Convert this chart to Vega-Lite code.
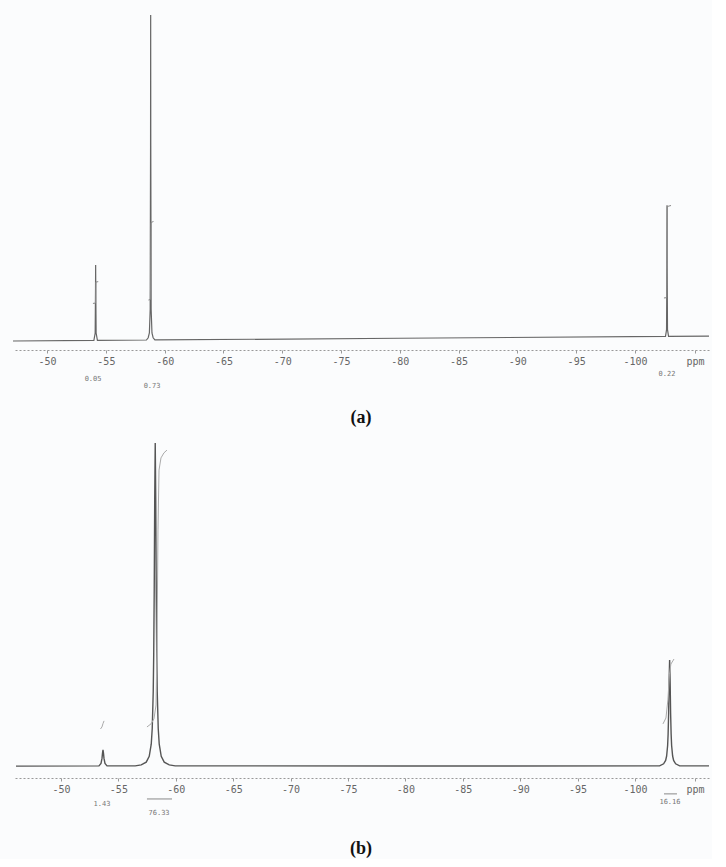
{
  "$schema": "https://vega.github.io/schema/vega-lite/v6.json",
  "background": "#fbfcfd",
  "padding": {"left": 10, "top": 10, "right": 0, "bottom": 0},
  "bounds": "flush",
  "spacing": 90,
  "config": {"view": {"stroke": null}},
  "datasets": {
    "spec_a": [
      {"ppm": -47.1, "i": 2.65},
      {"ppm": -53.98, "i": 2.82},
      {"ppm": -54.09, "i": 5},
      {"ppm": -54.12, "i": 18},
      {"ppm": -54.13, "i": 25},
      {"ppm": -54.14, "i": 18},
      {"ppm": -54.17, "i": 5},
      {"ppm": -54.28, "i": 2.84},
      {"ppm": -58.45, "i": 2.94},
      {"ppm": -58.6, "i": 3.6},
      {"ppm": -58.7, "i": 5.0},
      {"ppm": -58.77, "i": 12},
      {"ppm": -58.8, "i": 60},
      {"ppm": -58.81, "i": 98.5},
      {"ppm": -58.82, "i": 60},
      {"ppm": -58.85, "i": 12},
      {"ppm": -58.92, "i": 5.0},
      {"ppm": -59.02, "i": 3.6},
      {"ppm": -59.17, "i": 2.95},
      {"ppm": -80.0, "i": 3.45},
      {"ppm": -102.6, "i": 4.01},
      {"ppm": -102.69, "i": 6},
      {"ppm": -102.72, "i": 25},
      {"ppm": -102.73, "i": 42.6},
      {"ppm": -102.74, "i": 25},
      {"ppm": -102.77, "i": 6},
      {"ppm": -102.86, "i": 4.02},
      {"ppm": -106.3, "i": 4.1}
    ],
    "int_a": [
      {"g": 1, "ppm": -53.9, "i": 13.7},
      {"g": 1, "ppm": -54.12, "i": 13.8},
      {"g": 1, "ppm": -54.15, "i": 20.0},
      {"g": 1, "ppm": -54.35, "i": 20.1},
      {"g": 2, "ppm": -58.62, "i": 14.7},
      {"g": 2, "ppm": -58.79, "i": 14.85},
      {"g": 2, "ppm": -58.84, "i": 37.5},
      {"g": 2, "ppm": -59.05, "i": 37.8},
      {"g": 3, "ppm": -102.47, "i": 15.3},
      {"g": 3, "ppm": -102.7, "i": 15.4},
      {"g": 3, "ppm": -102.75, "i": 42.2},
      {"g": 3, "ppm": -103.07, "i": 42.5}
    ],
    "lab_a": [
      {"ppm": -53.91, "i": -8.5, "t": "0.05"},
      {"ppm": -58.93, "i": -10.6, "t": "0.73"},
      {"ppm": -102.73, "i": -7.1, "t": "0.22"}
    ],
    "spec_b": [
      {"ppm": -46.08, "i": 3.5},
      {"ppm": -53.31, "i": 3.6},
      {"ppm": -53.486, "i": 4.3},
      {"ppm": -53.573, "i": 5.8},
      {"ppm": -53.616, "i": 7.3},
      {"ppm": -53.66, "i": 8.3},
      {"ppm": -53.704, "i": 7.3},
      {"ppm": -53.747, "i": 5.8},
      {"ppm": -53.834, "i": 4.3},
      {"ppm": -54.01, "i": 3.6},
      {"ppm": -56.468, "i": 3.6},
      {"ppm": -56.99, "i": 3.9},
      {"ppm": -57.426, "i": 4.7},
      {"ppm": -57.687, "i": 6.4},
      {"ppm": -57.862, "i": 10.0},
      {"ppm": -57.949, "i": 14.65},
      {"ppm": -58.036, "i": 25.5},
      {"ppm": -58.079, "i": 36.8},
      {"ppm": -58.123, "i": 55.8},
      {"ppm": -58.166, "i": 82.7},
      {"ppm": -58.21, "i": 99.1},
      {"ppm": -58.254, "i": 82.7},
      {"ppm": -58.297, "i": 55.8},
      {"ppm": -58.341, "i": 36.8},
      {"ppm": -58.384, "i": 25.5},
      {"ppm": -58.471, "i": 14.65},
      {"ppm": -58.558, "i": 10.0},
      {"ppm": -58.733, "i": 6.4},
      {"ppm": -58.994, "i": 4.7},
      {"ppm": -59.43, "i": 3.9},
      {"ppm": -59.952, "i": 3.6},
      {"ppm": -80.0, "i": 3.55},
      {"ppm": -102.149, "i": 3.6},
      {"ppm": -102.497, "i": 4.2},
      {"ppm": -102.672, "i": 5.2},
      {"ppm": -102.759, "i": 6.5},
      {"ppm": -102.846, "i": 9.6},
      {"ppm": -102.889, "i": 13.0},
      {"ppm": -102.933, "i": 19.1},
      {"ppm": -102.976, "i": 28.6},
      {"ppm": -103.02, "i": 34.9},
      {"ppm": -103.064, "i": 28.6},
      {"ppm": -103.107, "i": 19.1},
      {"ppm": -103.151, "i": 13.0},
      {"ppm": -103.194, "i": 9.6},
      {"ppm": -103.281, "i": 6.5},
      {"ppm": -103.368, "i": 5.2},
      {"ppm": -103.543, "i": 4.2},
      {"ppm": -103.891, "i": 3.6},
      {"ppm": -106.45, "i": 3.6}
    ],
    "int_b": [
      {"g": 1, "ppm": -53.44, "i": 14.5},
      {"g": 1, "ppm": -53.57, "i": 15.1},
      {"g": 1, "ppm": -53.66, "i": 16.1},
      {"g": 1, "ppm": -53.75, "i": 16.9},
      {"g": 2, "ppm": -57.49, "i": 15.1},
      {"g": 2, "ppm": -57.84, "i": 16.0},
      {"g": 2, "ppm": -58.1, "i": 17.5},
      {"g": 2, "ppm": -58.28, "i": 21.6},
      {"g": 2, "ppm": -58.36, "i": 37.9},
      {"g": 2, "ppm": -58.45, "i": 73.4},
      {"g": 2, "ppm": -58.54, "i": 91.1},
      {"g": 2, "ppm": -58.71, "i": 94.7},
      {"g": 2, "ppm": -58.97, "i": 96.2},
      {"g": 2, "ppm": -59.23, "i": 97.0},
      {"g": 3, "ppm": -102.44, "i": 16.0},
      {"g": 3, "ppm": -102.7, "i": 17.75},
      {"g": 3, "ppm": -102.87, "i": 23.1},
      {"g": 3, "ppm": -103.0, "i": 30.5},
      {"g": 3, "ppm": -103.13, "i": 33.7},
      {"g": 3, "ppm": -103.4, "i": 35.2}
    ],
    "lab_b": [
      {"ppm": -53.57, "i": -7.7, "t": "1.43"},
      {"ppm": -58.54, "i": -10.4, "t": "76.33"},
      {"ppm": -103.05, "i": -7.1, "t": "16.16"}
    ],
    "bar_b": [
      {"ppm": -57.49, "ppm2": -59.67, "i": -6.2},
      {"ppm": -102.53, "ppm2": -103.66, "i": -4.7}
    ]
  },
  "vconcat": [
    {
      "width": 696,
      "height": 340,
      "title": {"text": "(a)", "orient": "bottom", "offset": 20, "font": "Liberation Serif", "fontSize": 18, "fontWeight": "bold", "color": "#111"},
      "encoding": {
        "x": {
          "field": "ppm", "type": "quantitative",
          "scale": {"domain": [-106.3, -47.1], "reverse": true, "nice": false, "zero": false},
          "axis": {
            "values": [-50, -55, -60, -65, -70, -75, -80, -85, -90, -95, -100, -105.11],
            "labelExpr": "datum.value < -104 ? 'ppm' : '-' + abs(datum.value)",
            "title": null, "grid": false,
            "domainColor": "#999", "domainDash": [2, 2], "domainWidth": 1,
            "tickColor": "#999", "tickSize": 3,
            "labelFont": "DejaVu Sans Mono", "labelFontSize": 10, "labelColor": "#666",
            "labelPadding": 3, "labelFlush": false, "labelOverlap": false
          }
        },
        "y": {"field": "i", "type": "quantitative", "scale": {"domain": [0, 100], "nice": false, "zero": false}, "axis": null}
      },
      "layer": [
        {"data": {"name": "spec_a"}, "mark": {"type": "line", "color": "#666", "strokeWidth": 1.2}},
        {"data": {"name": "int_a"}, "mark": {"type": "line", "color": "#888", "strokeWidth": 1}, "encoding": {"detail": {"field": "g"}}},
        {"data": {"name": "lab_a"}, "mark": {"type": "text", "font": "DejaVu Sans Mono", "fontSize": 7, "color": "#777"}, "encoding": {"text": {"field": "t"}}}
      ]
    },
    {
      "width": 696,
      "height": 338,
      "title": {"text": "(b)", "orient": "bottom", "offset": 24, "font": "Liberation Serif", "fontSize": 18, "fontWeight": "bold", "color": "#111"},
      "encoding": {
        "x": {
          "field": "ppm", "type": "quantitative",
          "scale": {"domain": [-106.45, -45.82], "reverse": true, "nice": false, "zero": false},
          "axis": {
            "values": [-50, -55, -60, -65, -70, -75, -80, -85, -90, -95, -100, -105.23],
            "labelExpr": "datum.value < -104 ? 'ppm' : '-' + abs(datum.value)",
            "title": null, "grid": false,
            "domainColor": "#999", "domainDash": [2, 2], "domainWidth": 1,
            "tickColor": "#999", "tickSize": 3,
            "labelFont": "DejaVu Sans Mono", "labelFontSize": 10, "labelColor": "#666",
            "labelPadding": 3, "labelFlush": false, "labelOverlap": false
          }
        },
        "y": {"field": "i", "type": "quantitative", "scale": {"domain": [0, 100], "nice": false, "zero": false}, "axis": null}
      },
      "layer": [
        {"data": {"name": "spec_b"}, "mark": {"type": "line", "color": "#555", "strokeWidth": 1.4}},
        {"data": {"name": "int_b"}, "mark": {"type": "line", "color": "#aaa", "strokeWidth": 1}, "encoding": {"detail": {"field": "g"}}},
        {"data": {"name": "bar_b"}, "mark": {"type": "rule", "color": "#888", "strokeWidth": 1}, "encoding": {"x2": {"field": "ppm2"}}},
        {"data": {"name": "lab_b"}, "mark": {"type": "text", "font": "DejaVu Sans Mono", "fontSize": 7, "color": "#777"}, "encoding": {"text": {"field": "t"}}}
      ]
    }
  ]
}
